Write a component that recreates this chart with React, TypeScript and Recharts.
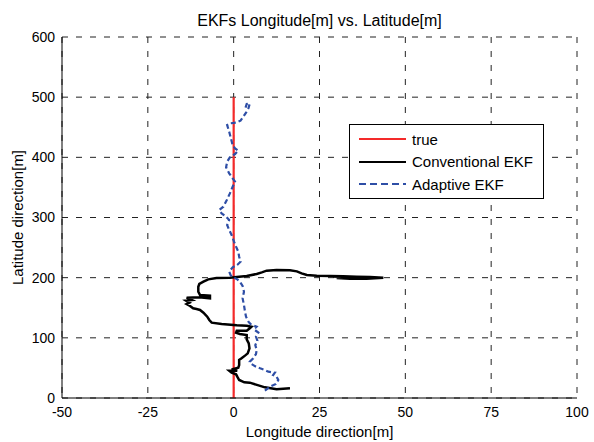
import React from 'react';
import { LineChart, Line, XAxis, YAxis, CartesianGrid, Legend } from 'recharts';

// axis ticks
const xTicks = [-50, -25, 0, 25, 50, 75, 100];
const yTicks = [0, 100, 200, 300, 400, 500, 600];

// ground truth: straight north along x = 0
const trueX = [0, 0];
const trueY = [0, 500];

// conventional EKF track
const convX = [16.4, 12.5, 9.1, 4.7, 3.1, 1.6, 1.05, 0.7, -0.6, -1.3, 1.05, -0.6, 1.35, 1.6, 1.6, 2.3, 3.3, 4.1, 4.6, 4.4, 3.8, 3.8, 1.8, 0.7, 0.9, 3.8, 4.7, 5.2, 3.8, 0.9, -3.5, -6.4, -7.1, -7.7, -8.8, -9.8, -10.8, -11.8, -12.7, -13.7, -12.9, -13.9, -12.2, -13.7, -10.0, -6.9, -6.9, -9.8, -10.3, -10.3, -10.0, -8.8, -7.4, -5.0, -1.1, 0.9, 3.8, 6.7, 8.2, 9.6, 12.5, 16.4, 18.4, 19.8, 21.3, 24.2, 28.1, 31.9, 35.8, 39.7, 43.6, 38.7, 33.9, 30.0, 33.9, 41.7, 35.8, 29.0];
const convY = [16.1, 14.4, 17.7, 25.5, 26, 29.9, 35.5, 39.3, 42.1, 45.4, 45.4, 47.6, 50.4, 54.8, 63.2, 65.9, 70.4, 74.2, 82.5, 90.9, 97.5, 104.7, 106.4, 108.6, 111.9, 111.9, 115.8, 118.5, 120.2, 120.8, 123, 125.2, 129.6, 135.2, 141.8, 146.3, 147.9, 149, 152.9, 156.2, 158.4, 161.8, 162.9, 166.8, 167.3, 165.6, 170.1, 171.2, 176.7, 185, 189.5, 193.4, 197.2, 199.4, 200, 201.1, 202.8, 206.1, 208.8, 211.6, 212.7, 212.2, 210.5, 207.2, 204.4, 203.3, 202.8, 202.2, 201.7, 201.1, 200, 198.3, 198.3, 199.4, 200.6, 200, 200.6, 201.7];

// adaptive EKF track
const adaptX = [9.1, 10.6, 12.3, 13.0, 12.5, 11.5, 12.0, 10.1, 9.1, 7.7, 6.5, 5.2, 4.7, 5.7, 6.5, 6.7, 6.3, 6.9, 6.5, 7.2, 5.9, 6.7, 4.9, 4.3, 3.6, 3.3, 3.0, 2.6, 3.0, 2.6, 1.8, 1.05, -0.1, -0.9, -1.3, -0.3, 1.05, 2.0, 1.6, 1.35, 0.7, 0.1, -0.6, -1.3, -1.9, -1.3, -2.2, -3.5, -4.2, -3.0, -2.0, -1.1, -0.3, 0.4, -0.3, -1.3, -2.2, -1.9, -1.1, 0.4, 1.35, 0.4, -0.3, -0.8, -1.3, -1.9, -1.1, 0.7, 2.0, 2.8, 3.6, 4.3, 4.7, 3.8, 3.3];
const adaptY = [12.2, 18.8, 23.3, 29.9, 35.5, 38.2, 42.1, 43.8, 46.5, 49.3, 52.1, 56.5, 60.4, 65.9, 73.1, 79.8, 88.1, 95.3, 101.9, 108.6, 114.1, 118.5, 123, 126.9, 135.2, 143.5, 154.6, 165.6, 176.7, 186.1, 193.4, 197.2, 200.6, 204.4, 210, 217.2, 221.1, 226.5, 234.9, 243.2, 251.6, 259.9, 270.9, 279.3, 287.5, 295.8, 301.4, 306.9, 312.4, 318, 329, 340, 351.2, 359.5, 365.1, 373.4, 383.4, 392.8, 400, 405.5, 411.1, 414.9, 420.5, 431.6, 442.6, 453.7, 456.5, 457.6, 460.9, 467.6, 474.2, 481.4, 489.7, 488.6, 479.7];

const toPoints = (xs: number[], ys: number[]) => xs.map((x, i) => ({ x, y: ys[i] }));

const trueData = toPoints(trueX, trueY);
const convData = toPoints(convX, convY);
const adaptData = toPoints(adaptX, adaptY);

const FONT = '"Liberation Sans", Arial, Helvetica, sans-serif';

const legendItems = [
  { name: 'true', color: '#f42a2a', dash: undefined },
  { name: 'Conventional EKF', color: '#000000', dash: undefined },
  { name: 'Adaptive EKF', color: '#2e4ea6', dash: '7 4' },
];

const LegendBox = () => (
  <div
    style={{
      border: '1px solid #000',
      background: '#fff',
      width: 193,
      height: 70,
      boxSizing: 'content-box',
      fontFamily: FONT,
      fontSize: 15,
      paddingTop: 3,
    }}
  >
    {legendItems.map((it) => (
      <div key={it.name} style={{ display: 'flex', alignItems: 'center', height: 22.5 }}>
        <svg width={62} height={10}>
          <line x1={9} x2={56} y1={5} y2={5} stroke={it.color} strokeWidth={2} strokeDasharray={it.dash} />
        </svg>
        <span style={{ color: '#000' }}>{it.name}</span>
      </div>
    ))}
  </div>
);

const App: React.FC = () => {
  return (
    <div style={{ position: 'absolute', left: 0, top: 0, width: 594, height: 442, background: '#fff' }}>
      <div
        style={{
          position: 'absolute',
          top: 12,
          left: 62,
          width: 515,
          textAlign: 'center',
          fontFamily: FONT,
          fontSize: 16,
          color: '#000',
        }}
      >
        EKFs Longitude[m] vs. Latitude[m]
      </div>
      <LineChart width={594} height={442} margin={{ top: 37, right: 17, bottom: 0, left: 0 }}>
        <CartesianGrid stroke="#222" strokeDasharray="6 8" verticalValues={xTicks} horizontalValues={yTicks} />
        <XAxis
          dataKey="x"
          type="number"
          domain={[-50, 100]}
          ticks={xTicks}
          allowDataOverflow
          height={44}
          tickLine={false}
          tickSize={0}
          tickMargin={9}
          axisLine={{ stroke: '#000' }}
          tick={{ fill: '#000', fontSize: 14, fontFamily: FONT }}
          label={{
            value: 'Longitude direction[m]',
            position: 'insideBottom',
            offset: 5,
            fill: '#000',
            fontSize: 15,
            fontFamily: FONT,
          }}
        />
        <XAxis
          xAxisId="bm"
          type="number"
          domain={[-50, 100]}
          ticks={xTicks}
          orientation="bottom"
          mirror
          height={0}
          tick={false}
          tickSize={5}
          axisLine={false}
          tickLine={{ stroke: '#000' }}
        />
        <XAxis
          xAxisId="top"
          type="number"
          domain={[-50, 100]}
          ticks={xTicks}
          orientation="top"
          mirror
          height={0}
          tick={false}
          tickSize={5}
          axisLine={{ stroke: '#000' }}
          tickLine={{ stroke: '#000' }}
        />
        <YAxis
          type="number"
          domain={[0, 600]}
          ticks={yTicks}
          allowDataOverflow
          width={62}
          tickLine={false}
          tickSize={0}
          tickMargin={7}
          axisLine={{ stroke: '#000' }}
          tick={{ fill: '#000', fontSize: 14, fontFamily: FONT }}
          label={{
            value: 'Latitude direction[m]',
            angle: -90,
            position: 'insideLeft',
            offset: 18,
            style: { textAnchor: 'middle' },
            fill: '#000',
            fontSize: 15,
            fontFamily: FONT,
          }}
        />
        <YAxis
          yAxisId="lm"
          type="number"
          domain={[0, 600]}
          ticks={yTicks}
          orientation="left"
          mirror
          width={0}
          tick={false}
          tickSize={5}
          axisLine={false}
          tickLine={{ stroke: '#000' }}
        />
        <YAxis
          yAxisId="rm"
          type="number"
          domain={[0, 600]}
          ticks={yTicks}
          orientation="right"
          mirror
          width={0}
          tick={false}
          tickSize={5}
          axisLine={{ stroke: '#000' }}
          tickLine={{ stroke: '#000' }}
        />
        <Line
          data={trueData}
          dataKey="y"
          name="true"
          stroke="#f42a2a"
          strokeWidth={2.2}
          dot={false}
          isAnimationActive={false}
        />
        <Line
          data={convData}
          dataKey="y"
          name="Conventional EKF"
          stroke="#000"
          strokeWidth={2.5}
          dot={false}
          isAnimationActive={false}
        />
        <Line
          data={adaptData}
          dataKey="y"
          name="Adaptive EKF"
          stroke="#2e4ea6"
          strokeWidth={2.2}
          strokeDasharray="5 3"
          dot={false}
          isAnimationActive={false}
        />
        <Legend
          layout="vertical"
          align="center"
          verticalAlign="middle"
          wrapperStyle={{ left: 349, top: 124, width: 'auto' }}
          content={() => <LegendBox />}
        />
      </LineChart>
    </div>
  );
};

export default App;
